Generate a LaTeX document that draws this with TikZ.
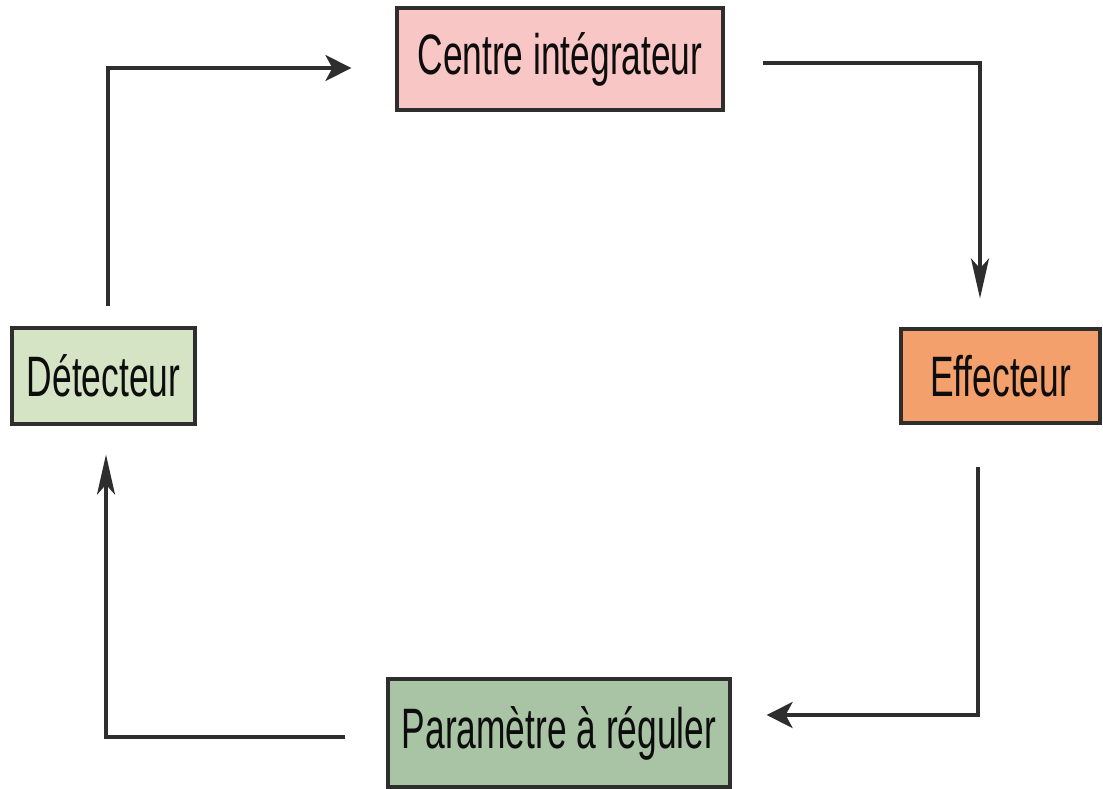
\documentclass[tikz,border=0pt]{standalone}
\usepackage{fontspec}
\setmainfont[FakeStretch=0.62]{Liberation Sans}
\usetikzlibrary{arrows.meta}

\definecolor{boxline}{HTML}{2E2E2E}
\definecolor{pinkfill}{HTML}{F8C6C4}
\definecolor{lightgreen}{HTML}{D4E4C4}
\definecolor{orangefill}{HTML}{F4A06C}
\definecolor{sagefill}{HTML}{A9C4A4}

\tikzset{
  stagebox/.style={draw=boxline, line width=3.2pt, inner sep=0pt,
    font=\fontsize{57}{60}\selectfont, text=black!95},
  link/.style={draw=boxline, line width=3.4pt},
  hhead/.style={-{Stealth[length=26pt,width=26pt,inset=7pt]}},
  vhead/.style={-{Stealth[length=40pt,width=18pt,inset=10pt]}}
}

\begin{document}
\begin{tikzpicture}[x=1pt,y=-1pt]
  \useasboundingbox[fill=white] (0,0) rectangle (1103,788);

  % the four stages of the loop
  \node[stagebox, fill=pinkfill, minimum width=326pt, minimum height=102pt]
    (cen) at (560,59) {Centre intégrateur};
  \node[stagebox, fill=lightgreen, minimum width=183pt, minimum height=96pt]
    (det) at (103.5,376) {Détecteur};
  \node[stagebox, fill=orangefill, minimum width=199pt, minimum height=94pt]
    (eff) at (1000.5,376) {Effecteur};
  \node[stagebox, fill=sagefill, minimum width=342pt, minimum height=108pt]
    (par) at (559,733) {Paramètre à réguler};

  % connectors, each leaving a gap before the boxes
  \draw[link, hhead] ([xshift=4.5pt,yshift=20pt]det.north)
    |- ([xshift=-44pt,yshift=-9pt]cen.west);
  \draw[link, vhead] ([xshift=38pt,yshift=-4pt]cen.east)
    -| ([xshift=-20.5pt,yshift=29pt]eff.north);
  \draw[link, hhead] ([xshift=-22.5pt,yshift=-42pt]eff.south)
    |- ([xshift=35pt,yshift=18pt]par.east);
  \draw[link, vhead] ([xshift=-41pt,yshift=-4pt]par.west)
    -| ([xshift=2.5pt,yshift=-29pt]det.south);
\end{tikzpicture}
\end{document}
